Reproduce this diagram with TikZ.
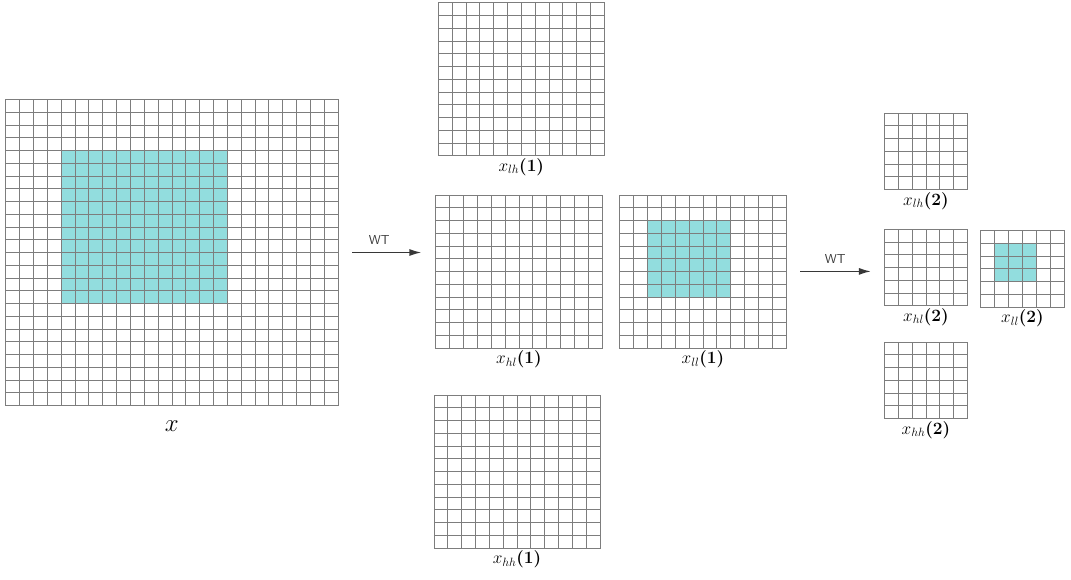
\documentclass[tikz,border=0pt]{standalone}
\usepackage{amsmath}
\usepackage{tikz}
\usetikzlibrary{arrows.meta,positioning,calc}
\definecolor{meshgray}{RGB}{125,125,125}
\definecolor{spotcyan}{RGB}{146,221,222}
\definecolor{wtgray}{RGB}{55,55,55}
\tikzset{
  mesh/.style n args={3}{rectangle, draw=meshgray, line width=0.8pt, inner sep=0pt,
    minimum width=#1*13.85pt, minimum height=#1*12.75pt,
    path picture={
      \fill[spotcyan] ([xshift=#2*13.85pt, yshift=-#2*12.75pt]path picture bounding box.north west)
        rectangle ([xshift=#3*13.85pt, yshift=-#3*12.75pt]path picture bounding box.north west);
      \foreach \k in {1,...,#1}{
        \draw[meshgray, line width=0.8pt] ([xshift=\k*13.85pt]path picture bounding box.south west) -- ([xshift=\k*13.85pt]path picture bounding box.north west);
        \draw[meshgray, line width=0.8pt] ([yshift=-\k*12.75pt]path picture bounding box.north west) -- ([yshift=-\k*12.75pt]path picture bounding box.north east);
      }
    }},
  tag/.style={inner sep=1pt, font=\fontsize{17.5}{19}\selectfont},
  arrow/.style={-{Latex[length=12pt, width=7pt]}, line width=1.5pt, draw=wtgray},
  wt/.style={font=\sffamily\fontsize{13}{15}\selectfont, text=wtgray}
}
\begin{document}
\begin{tikzpicture}[x=1pt, y=-1pt]
\useasboundingbox (0,0) rectangle (1071,579);
% input
\node[mesh={24}{4}{16}] (x0) at (171.9,252.5) {};
\node[font=\fontsize{31}{33}\selectfont, below=11pt of x0] (x0-l) {$x$};
% level 1
\node[mesh={12}{0}{0}] (lh1) at (521.3,79.2) {};
\node[mesh={12}{0}{0}] (hl1) at (518.9,271.4) {};
\node[mesh={12}{2}{8}] (ll1) at (702.9,271.4) {};
\node[mesh={12}{0}{0}] (hh1) at (517,471.4) {};
\node[tag, below=1pt of lh1] (lh1-l) {$x_{lh}\boldsymbol{(1)}$};
\node[tag, below=1pt of hl1] (hl1-l) {$x_{hl}\boldsymbol{(1)}$};
\node[tag, below=1pt of ll1] (ll1-l) {$x_{ll}\boldsymbol{(1)}$};
\node[tag, below=1pt of hh1] (hh1-l) {$x_{hh}\boldsymbol{(1)}$};
% level 2
\node[mesh={6}{0}{0}] (lh2) at (925.9,151.2) {};
\node[mesh={6}{0}{0}] (hl2) at (925.9,267.4) {};
\node[mesh={6}{1}{4}] (ll2) at (1022.4,268.7) {};
\node[mesh={6}{0}{0}] (hh2) at (925.9,380.2) {};
\node[tag, below=1pt of lh2] (lh2-l) {$x_{lh}\boldsymbol{(2)}$};
\node[tag, below=1pt of hl2] (hl2-l) {$x_{hl}\boldsymbol{(2)}$};
\node[tag, below=1pt of ll2] (ll2-l) {$x_{ll}\boldsymbol{(2)}$};
\node[tag, below=1pt of hh2] (hh2-l) {$x_{hh}\boldsymbol{(2)}$};
% transforms
\draw[arrow, shorten <=13.7pt, shorten >=14pt] (x0.east) -- (x0.east -| hl1.west) node[wt, above=4pt, pos=0.42] {WT};
\draw[arrow, shorten <=14pt, shorten >=13pt] (ll1.east) -- (ll1.east -| hl2.west) node[wt, above=4pt, pos=0.5] {WT};
\end{tikzpicture}
\end{document}
